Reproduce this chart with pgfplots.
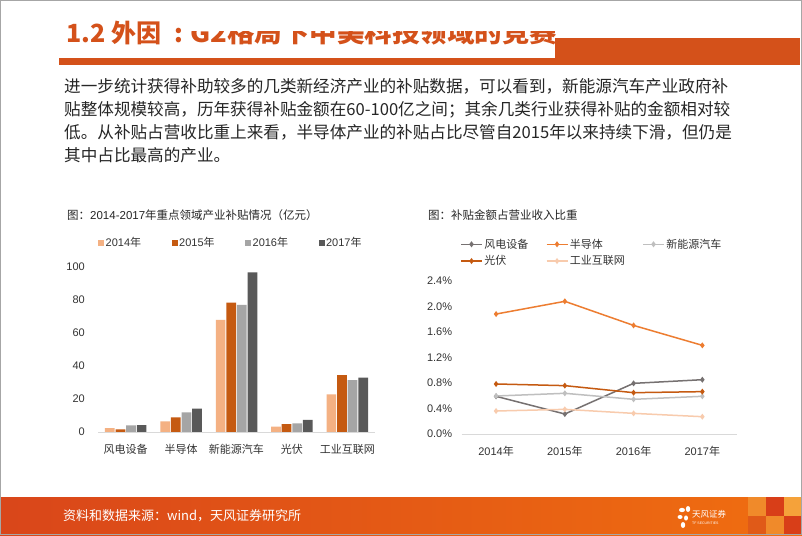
\documentclass[border=0pt]{standalone}
\usepackage{fontspec}
\setmainfont{Liberation Sans}
\newfontfamily\cjk{Noto Sans CJK SC}
\usepackage{pgfplots}
\pgfplotsset{compat=1.18}
\definecolor{tforange}{HTML}{D4511A}
\definecolor{txt}{HTML}{262626}
\definecolor{lab}{HTML}{333333}
\definecolor{cA}{HTML}{F4B183}
\definecolor{cB}{HTML}{C55A11}
\definecolor{cC}{HTML}{A5A5A5}
\definecolor{cD}{HTML}{595959}
\definecolor{lWind}{HTML}{767171}
\definecolor{lSemi}{HTML}{ED7D31}
\definecolor{lNev}{HTML}{BFBFBF}
\definecolor{lPv}{HTML}{C55A11}
\definecolor{lInd}{HTML}{F8CBAD}
\definecolor{footL}{HTML}{D9461A}
\definecolor{footR}{HTML}{F06E10}
\definecolor{mA}{HTML}{F08A2A}
\definecolor{mB}{HTML}{D83E18}
\definecolor{mC}{HTML}{F5A23A}
\definecolor{mD}{HTML}{E05A18}
\begin{document}
\begin{tikzpicture}[x=1pt,y=1pt]
\path[use as bounding box] (0,0) rectangle (802,535);
\fill[white] (0,0) rectangle (802,535);
% title
\node[anchor=base west, inner sep=0pt, text=tforange, font=\cjk\bfseries\fontsize{25}{28}\selectfont] at (66,492.5) {1.2 外因};
\node[anchor=base west, inner sep=0pt, text=tforange, font=\cjk\bfseries\fontsize{25}{28}\selectfont] at (174,492.5) {:};
\node[anchor=base west, inner sep=0pt, xscale=1.1, text=tforange, font=\cjk\bfseries\fontsize{25}{28}\selectfont] at (190,492.5) {G2格局下中美科技领域的竞赛};
\fill[white] (189,503.5) rectangle (556,520);
\fill[tforange] (59,470) rectangle (800,477);
\fill[tforange] (555,470) rectangle (800,497);
% paragraph
\begin{scope}[every node/.style={anchor=base west, inner sep=0pt, text=txt, font=\cjk\fontsize{16.6}{20}\selectfont}]
\node at (64,442.5) {进一步统计获得补助较多的几类新经济产业的补贴数据，可以看到，新能源汽车产业政府补};
\node at (64,419.2) {贴整体规模较高，历年获得补贴金额在60-100亿之间；其余几类行业获得补贴的金额相对较};
\node at (64,396.2) {低。从补贴占营收比重上来看，半导体产业的补贴占比尽管自2015年以来持续下滑，但仍是};
\node at (64,373.2) {其中占比最高的产业。};
\end{scope}
% chart titles
\node[anchor=base west, inner sep=0pt, text=txt, font=\fontsize{11.5}{13}\selectfont] at (67,315) {{\cjk 图：}2014-2017{\cjk 年重点领域产业补贴情况（亿元）}};
\node[anchor=base west, inner sep=0pt, text=txt, font=\cjk\fontsize{11.5}{13}\selectfont] at (428,315) {图：补贴金额占营业收入比重};

% bar chart
\begin{axis}[
  at={(98pt,103pt)}, anchor=south west, scale only axis,
  width=277pt, height=165pt,
  xmin=-0.5, xmax=4.5, ymin=0, ymax=100,
  ybar=0.9pt, bar width=9.7pt,
  xtick={0,1,2,3,4},
  xticklabels={风电设备,半导体,新能源汽车,光伏,工业互联网},
  ytick={0,20,40,60,80,100},
  axis x line*=bottom, axis y line*=left,
  y axis line style={draw=none},
  x axis line style={draw=black!15, line width=0.8pt, -},
  major tick length=0pt,
  /pgf/number format/assume math mode=true,
  yticklabel style={font=\fontsize{11}{13}\selectfont, text=lab, anchor=east, inner sep=0pt, xshift=-13pt},
  xticklabel style={font=\cjk\fontsize{11}{13}\selectfont, text=lab, anchor=center, inner sep=0pt, yshift=-17pt},
  clip=false,
  legend columns=4,
  legend cell align=left,
  legend image code/.code={\fill[#1] (0pt,-3pt) rectangle (6pt,3pt);},
  legend style={at={(0.0,1.147)}, anchor=west, draw=none, fill=none, inner sep=0pt,
    font=\fontsize{11}{13}\selectfont, text=lab,
    /tikz/every even column/.append style={column sep=29pt},
    nodes={inner sep=1.5pt}},
]
\addplot[fill=cA, draw=none] coordinates {(0,2.4) (1,6.5) (2,68.0) (3,3.2) (4,22.8)};
\addplot[fill=cB, draw=none] coordinates {(0,1.6) (1,8.9) (2,78.4) (3,4.8) (4,34.5)};
\addplot[fill=cC, draw=none] coordinates {(0,4.0) (1,11.9) (2,77.0) (3,5.3) (4,31.5)};
\addplot[fill=cD, draw=none] coordinates {(0,4.2) (1,14.1) (2,96.8) (3,7.3) (4,32.9)};
\legend{2014{\cjk 年},2015{\cjk 年},2016{\cjk 年},2017{\cjk 年}}
\end{axis}

% line chart
\begin{axis}[
  at={(461.7pt,101pt)}, anchor=south west, scale only axis,
  width=275pt, height=153.3pt,
  xmin=-0.5, xmax=3.5, ymin=0, ymax=2.4,
  xtick={0,1,2,3},
  xticklabels={2014{\cjk 年},2015{\cjk 年},2016{\cjk 年},2017{\cjk 年}},
  ytick={0,0.4,0.8,1.2,1.6,2.0,2.4},
  yticklabel={\pgfmathprintnumber[fixed,fixed zerofill,precision=1]{\tick}\%},
  axis x line*=bottom, axis y line*=left,
  y axis line style={draw=none},
  x axis line style={draw=black!15, line width=0.8pt, -},
  major tick length=0pt,
  /pgf/number format/assume math mode=true,
  yticklabel style={font=\fontsize{11}{13}\selectfont, text=lab, anchor=east, inner sep=0pt, xshift=-9.4pt},
  xticklabel style={font=\fontsize{11}{13}\selectfont, text=lab, anchor=center, inner sep=0pt, yshift=-17.7pt},
  clip=false,
  every axis plot/.append style={line width=1.5pt, mark=diamond*, mark size=1.8pt},
  legend columns=3,
  legend cell align=left,
  legend image code/.code={\draw[mark repeat=2,mark phase=2,#1] plot coordinates {(0pt,0pt) (10.5pt,0pt) (21pt,0pt)};},
  legend style={at={(-0.006,1.183)}, anchor=west, draw=none, fill=none, inner sep=0pt,
    font=\cjk\fontsize{11}{13}\selectfont, text=lab,
    /tikz/every even column/.append style={column sep=16pt},
    row sep=3pt,
    nodes={inner sep=1.5pt}},
]
\addplot[color=lWind, mark options={fill=lWind}] coordinates {(0,0.59) (1,0.313) (2,0.793) (3,0.85)};
\addplot[color=lSemi, mark options={fill=lSemi}] coordinates {(0,1.878) (1,2.077) (2,1.70) (3,1.388)};
\addplot[color=lNev, mark options={fill=lNev}] coordinates {(0,0.595) (1,0.637) (2,0.543) (3,0.59)};
\addplot[color=lPv, mark options={fill=lPv}] coordinates {(0,0.783) (1,0.757) (2,0.647) (3,0.663)};
\addplot[color=lInd, mark options={fill=lInd}] coordinates {(0,0.36) (1,0.386) (2,0.323) (3,0.271)};
\legend{风电设备,半导体,新能源汽车,光伏,工业互联网}
\end{axis}

% footer
\shade[left color=footL, right color=footR] (0,0) rectangle (802,38);
\fill[mA] (748,19) rectangle (766,38);
\fill[mB] (766,19) rectangle (784,38);
\fill[mC] (784,19) rectangle (802,38);
\fill[mD] (748,0) rectangle (766,19);
\fill[mA] (766,0) rectangle (784,19);
\fill[mB] (784,0) rectangle (802,19);
\node[anchor=west, inner sep=0pt, text=white, font=\cjk\fontsize{13}{15}\selectfont] at (63,19.3) {资料和数据来源：wind，天风证券研究所};
% logo
\begin{scope}[white]
\fill (682,25) ellipse (3pt and 2.2pt);
\fill (688,26) ellipse (2.2pt and 3pt);
\fill (680,18) ellipse (2.5pt and 2pt);
\fill (686,17) ellipse (2pt and 2.6pt);
\fill (683,10) ellipse (2.2pt and 3pt);
\end{scope}
\node[anchor=base west, inner sep=0pt, text=white, font=\cjk\fontsize{8.5}{10}\selectfont] at (692,18) {天风证券};
\node[anchor=base west, inner sep=0pt, text=white, font=\fontsize{3.5}{4}\selectfont] at (692,11) {TF SECURITIES};
% frame
\draw[gray!70, line width=1.2pt] (0.6,0.6) rectangle (801.4,534.4);
\end{tikzpicture}
\end{document}
